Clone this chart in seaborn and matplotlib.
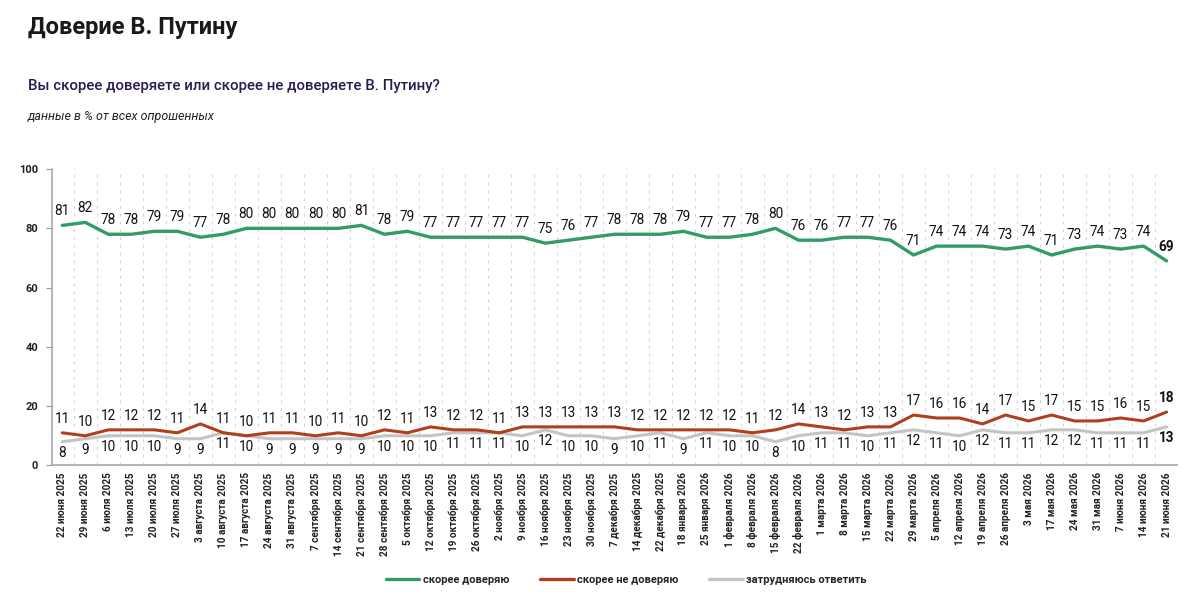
import matplotlib
matplotlib.use("Agg")
import matplotlib.pyplot as plt
from matplotlib import font_manager
from matplotlib.lines import Line2D
import seaborn as sns
import pandas as pd
import numpy as np

dates = [
    "22 июня 2025", "29 июня 2025", "6 июля 2025", "13 июля 2025", "20 июля 2025",
    "27 июля 2025", "3 августа 2025", "10 августа 2025", "17 августа 2025",
    "24 августа 2025", "31 августа 2025", "7 сентября 2025", "14 сентября 2025",
    "21 сентября 2025", "28 сентября 2025", "5 октября 2025", "12 октября 2025",
    "19 октября 2025", "26 октября 2025", "2 ноября 2025", "9 ноября 2025",
    "16 ноября 2025", "23 ноября 2025", "30 ноября 2025", "7 декабря 2025",
    "14 декабря 2025", "22 декабря 2025", "18 января 2026", "25 января 2026",
    "1 февраля 2026", "8 февраля 2026", "15 февраля 2026", "22 февраля 2026",
    "1 марта 2026", "8 марта 2026", "15 марта 2026", "22 марта 2026",
    "29 марта 2026", "5 апреля 2026", "12 апреля 2026", "19 апреля 2026",
    "26 апреля 2026", "3 мая 2026", "17 мая 2026", "24 мая 2026", "31 мая 2026",
    "7 июня 2026", "14 июня 2026", "21 июня 2026",
]

trust = [81, 82, 78, 78, 79, 79, 77, 78, 80, 80, 80, 80, 80, 81, 78, 79,
         77, 77, 77, 77, 77, 75, 76, 77, 78, 78, 78, 79, 77, 77, 78, 80,
         76, 76, 77, 77, 76, 71, 74, 74, 74, 73, 74, 71, 73, 74, 73, 74, 69]

distrust = [11, 10, 12, 12, 12, 11, 14, 11, 10, 11, 11, 10, 11, 10, 12, 11,
            13, 12, 12, 11, 13, 13, 13, 13, 13, 12, 12, 12, 12, 12, 11, 12,
            14, 13, 12, 13, 13, 17, 16, 16, 14, 17, 15, 17, 15, 15, 16, 15, 18]

unsure = [8, 9, 10, 10, 10, 9, 9, 11, 10, 9, 9, 9, 9, 9, 10, 10,
          10, 11, 11, 11, 10, 12, 10, 10, 9, 10, 11, 9, 11, 10, 10, 8,
          10, 11, 11, 10, 11, 12, 11, 10, 12, 11, 11, 12, 12, 11, 11, 11, 13]

series_names = ["скорее доверяю", "скорее не доверяю", "затрудняюсь ответить"]
colors = ["#339b66", "#b0401c", "#c4c4c4"]

title = "Доверие В. Путину"
subtitle = "Вы скорее доверяете или скорее не доверяете В. Путину?"
note = "данные в % от всех опрошенных"

sns.set_theme(style="white")


def pick_font(cands):
    for c in cands:
        try:
            font_manager.findfont(font_manager.FontProperties(family=c), fallback_to_default=False)
            return c
        except Exception:
            continue
    return "DejaVu Sans"


fam = pick_font(["Liberation Sans Narrow", "Roboto", "Open Sans"])
plt.rcParams["font.family"] = [fam, "DejaVu Sans"]

n = len(dates)
idx = np.arange(n)
df = pd.DataFrame({
    "x": np.concatenate([idx, idx, idx]),
    "value": trust + distrust + unsure,
    "series": [series_names[0]] * n + [series_names[1]] * n + [series_names[2]] * n,
})

fig = plt.figure(figsize=(12, 6.06), dpi=100)
ax = fig.add_axes([0.0433, 0.232, 0.9375, 0.489])

order_draw = [2, 1, 0]
widths = {0: 2.4, 1: 2.2, 2: 2.2}
for k in order_draw:
    sub = df[df["series"] == series_names[k]]
    sns.lineplot(data=sub, x="x", y="value", color=colors[k], linewidth=widths[k],
                 ax=ax, legend=False, zorder=3 + (2 - k))

ax.set_xlim(-0.45, n - 1 + 0.45)
ax.set_ylim(0, 100)
ax.set_yticks([0, 20, 40, 60, 80, 100])
ax.set_yticklabels(["0", "20", "40", "60", "80", "100"], fontsize=8, color="#222222",
                   fontweight="bold")
ax.set_xticks(idx)
ax.set_xticklabels(dates, rotation=90, fontsize=7.2, color="#222222", fontweight="bold")
ax.tick_params(axis="x", length=0, pad=5)
ax.tick_params(axis="y", length=4, width=0.8, color="#999999", pad=6, left=True)
ax.set_xlabel("")
ax.set_ylabel("")

for s in ["top", "right"]:
    ax.spines[s].set_visible(False)
for s in ["left", "bottom"]:
    ax.spines[s].set_color("#a8a8a8")
    ax.spines[s].set_linewidth(1.2)

for g in np.arange(0.5, n - 0.5, 1.0):
    ax.axvline(g, color="#cfcfcf", linewidth=0.7, linestyle=(0, (3, 5)), zorder=1)

label_kw = dict(fontsize=9.8, color="#111111", ha="center")
for i in range(n):
    last = i == n - 1
    fw = "bold" if last else "normal"
    ax.annotate(str(trust[i]), (i, trust[i]), xytext=(0, 5), textcoords="offset points",
                va="bottom", fontweight=fw, **label_kw)
    ax.annotate(str(distrust[i]), (i, distrust[i]), xytext=(0, 5), textcoords="offset points",
                va="bottom", fontweight=fw, **label_kw)
    ax.annotate(str(unsure[i]), (i, unsure[i]), xytext=(0, -3), textcoords="offset points",
                va="top", fontweight=fw, **label_kw)

fig.text(0.0233, 0.955, title, fontsize=17, fontweight="bold", color="#1a1a1a",
         ha="left", va="center")
fig.text(0.0233, 0.858, subtitle, fontsize=10.8, fontweight=500, color="#2c1b4e",
         ha="left", va="center")
fig.text(0.0233, 0.808, note, fontsize=9, style="italic", color="#222222",
         ha="left", va="center")

handles = [Line2D([0], [0], color=colors[k], linewidth=2.4) for k in range(3)]
fig.legend(handles, series_names, loc="center", bbox_to_anchor=(0.522, 0.043), ncol=3,
           frameon=False, handlelength=3.0, columnspacing=2.8,
           handletextpad=0.3, prop={"weight": "bold", "size": 8})

fig.savefig("out.png", dpi=100, facecolor="white")
